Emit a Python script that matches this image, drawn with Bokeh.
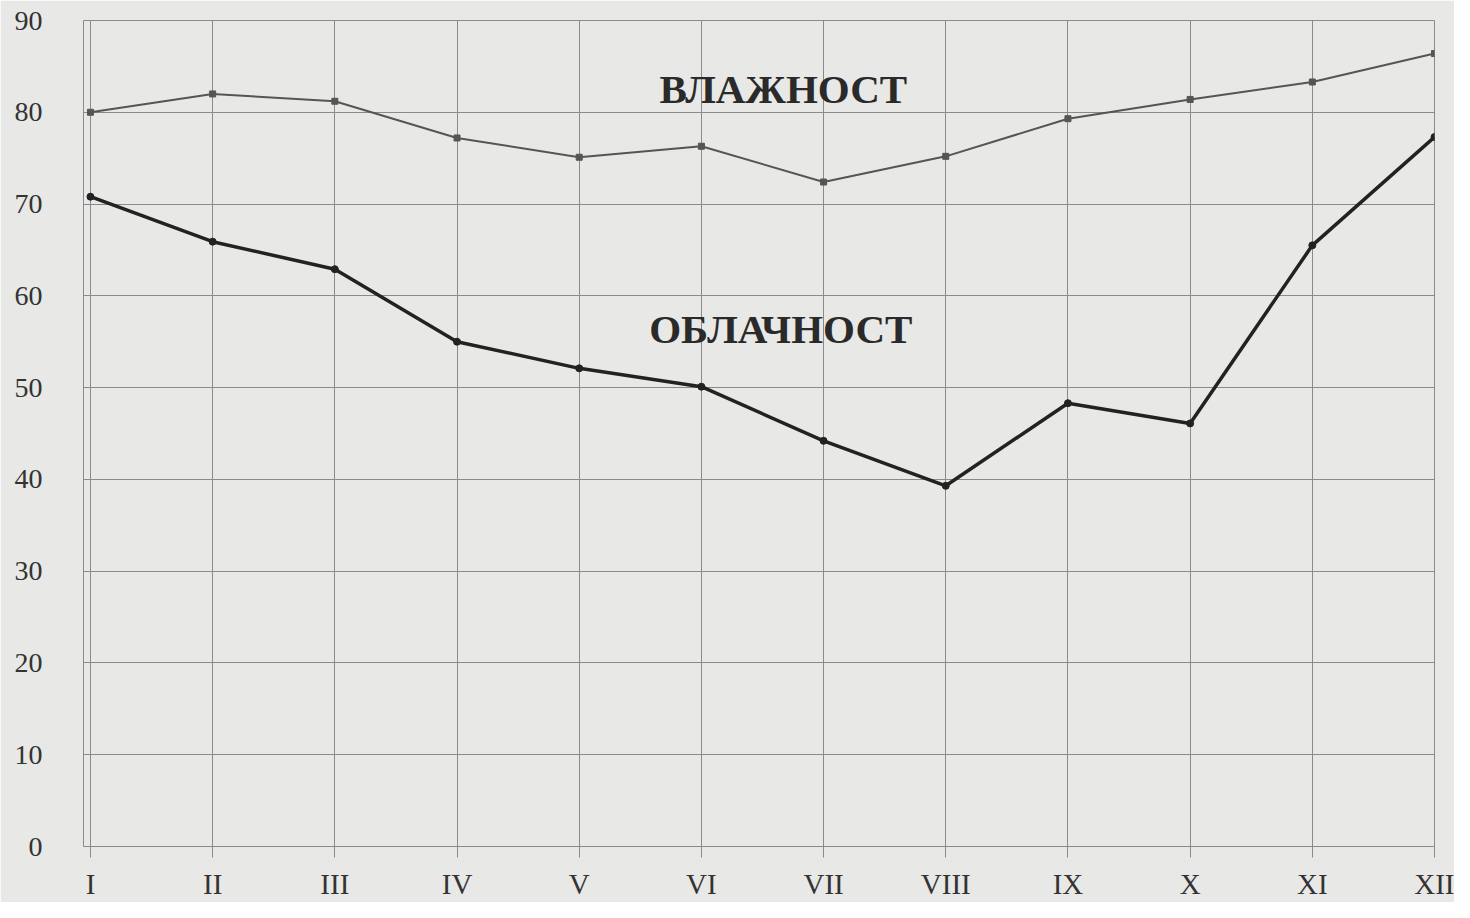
from bokeh.plotting import figure
from bokeh.embed import file_html
from bokeh.resources import INLINE
from bokeh.models import Range1d, FixedTicker
from bokeh.core.properties import value

months = ["I", "II", "III", "IV", "V", "VI", "VII", "VIII", "IX", "X", "XI", "XII"]
humidity = [80.0, 82.0, 81.2, 77.2, 75.1, 76.3, 72.4, 75.2, 79.3, 81.4, 83.3, 86.4]
cloudiness = [70.8, 65.9, 62.9, 55.0, 52.1, 50.1, 44.2, 39.3, 48.3, 46.1, 65.5, 77.3]
y_ticks = [0, 10, 20, 30, 40, 50, 60, 70, 80, 90]
label_humidity = "ВЛАЖНОСТ"
label_cloud = "ОБЛАЧНОСТ"

xs = list(range(1, len(months) + 1))
bg = "#e8e8e6"

p = figure(width=1454, height=902, output_backend="svg", toolbar_location=None,
           x_range=Range1d(0.943, 12.0), y_range=Range1d(0, 90),
           min_border_left=83, min_border_right=20, min_border_top=20, min_border_bottom=56,
           background_fill_color=bg, border_fill_color=bg)

p.outline_line_color = "#8a8a8a"
p.outline_line_width = 1

p.xaxis.ticker = FixedTicker(ticks=xs)
p.xaxis.major_label_overrides = {i: m for i, m in zip(xs, months)}
p.yaxis.ticker = FixedTicker(ticks=y_ticks)

for ax in (p.xaxis[0], p.yaxis[0]):
    ax.axis_line_color = None
    ax.minor_tick_line_color = None
    ax.major_label_text_font = "Liberation Serif"
    ax.major_label_text_color = "#333333"

p.xaxis.major_tick_line_color = "#8a8a8a"
p.xaxis.major_tick_out = 11
p.xaxis.major_tick_in = 0
p.xaxis.major_label_text_font_size = "29px"
p.xaxis.major_label_standoff = 10

p.yaxis.major_tick_line_color = None
p.yaxis.major_label_text_font_size = "28px"
p.yaxis.major_label_standoff = 35

p.xgrid.grid_line_color = "#8a8a8a"
p.ygrid.grid_line_color = "#8a8a8a"
p.xgrid.grid_line_width = 1
p.ygrid.grid_line_width = 1

# humidity
p.line(xs, humidity, line_color="#555555", line_width=2)
p.scatter(xs, humidity, marker="square", size=6, fill_color="#555555", line_color="#555555")

# cloudiness
p.line(xs, cloudiness, line_color="#222222", line_width=3.5)
p.scatter(xs, cloudiness, marker="circle", size=7, fill_color="#222222", line_color="#222222")

p.text(x=[6.67], y=[82.5], text=[label_humidity], text_font=value("Liberation Serif"),
       text_font_style="bold", text_font_size="41px", text_color="#2a2a2a",
       text_align="center", text_baseline="middle")
p.text(x=[6.65], y=[56.35], text=[label_cloud], text_font=value("Liberation Serif"),
       text_font_style="bold", text_font_size="41px", text_color="#2a2a2a",
       text_align="center", text_baseline="middle")

open("out.html", "w").write(file_html(p, INLINE))
